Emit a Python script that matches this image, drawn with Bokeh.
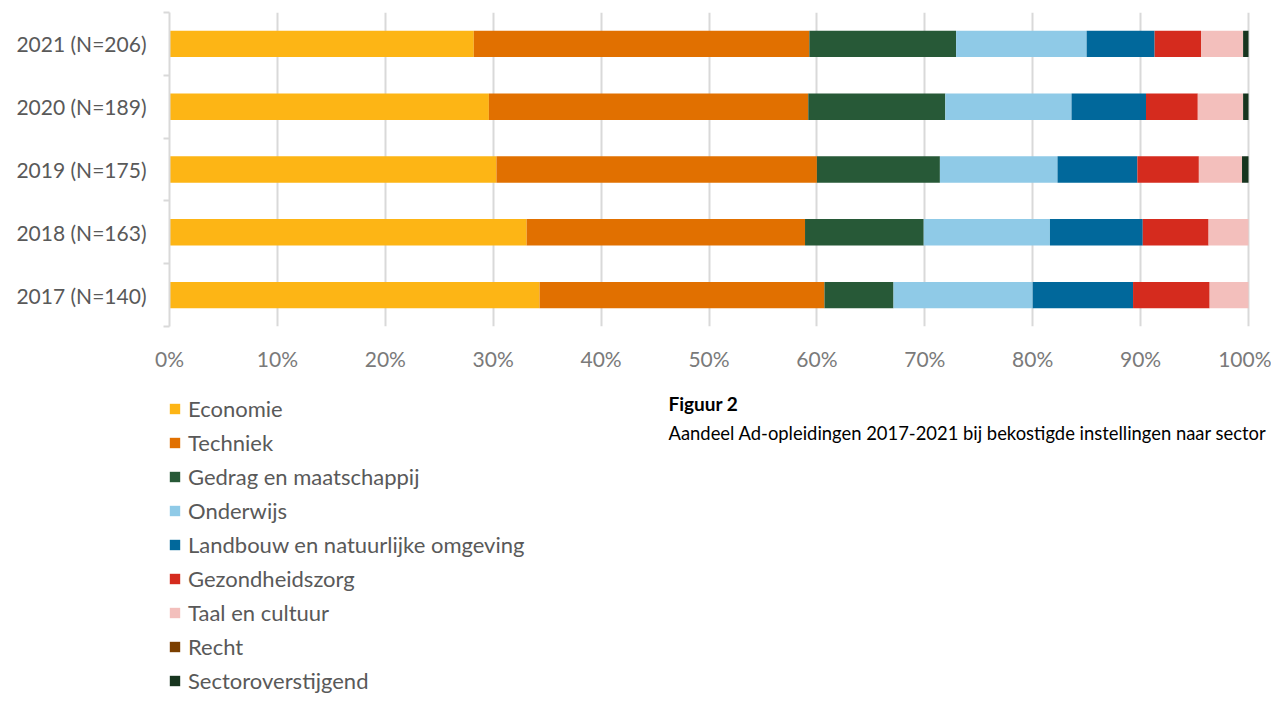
from bokeh.plotting import figure
from bokeh.models import (Range1d, FixedTicker, Legend, LegendItem, Label,
                          ColumnDataSource, NumeralTickFormatter)
from bokeh.layouts import column
from bokeh.embed import file_html
from bokeh.resources import INLINE

# ---- data (percentages) ----
years = ["2017 (N=140)", "2018 (N=163)", "2019 (N=175)", "2020 (N=189)", "2021 (N=206)"]
economie = [34.3, 33.1, 30.3, 29.6, 28.2]
techniek = [26.4, 25.8, 29.7, 29.6, 31.1]
gedrag = [6.4, 11.0, 11.4, 12.7, 13.6]
onderwijs = [12.9, 11.7, 10.9, 11.7, 12.1]
landbouw = [9.3, 8.6, 7.4, 6.9, 6.3]
gezondheid = [7.1, 6.1, 5.7, 4.8, 4.3]
taal = [3.6, 3.7, 4.0, 4.2, 3.9]
recht = [0.0, 0.0, 0.0, 0.0, 0.0]
sector = [0.0, 0.0, 0.6, 0.5, 0.5]

series_names = ["Economie", "Techniek", "Gedrag en maatschappij", "Onderwijs",
                "Landbouw en natuurlijke omgeving", "Gezondheidszorg",
                "Taal en cultuur", "Recht", "Sectoroverstijgend"]
series_values = [economie, techniek, gedrag, onderwijs, landbouw,
                 gezondheid, taal, recht, sector]
colors = ["#FDB515", "#E17000", "#275937", "#8FCAE7", "#01689B",
          "#D52B1E", "#F3BFBC", "#7B3F00", "#17351F"]
x_ticks = list(range(0, 101, 10))

caption_title = "Figuur 2"
caption_text = "Aandeel Ad-opleidingen 2017-2021 bij bekostigde instellingen naar sector"

FONT = "Lato"
W = 1271
H1 = 385
H2 = 308
LEFT = 169          # frame left edge (px)
AXIS_PX = 1079      # pixel length of 0..100 %
x_end = 100.0 * (W - LEFT) / AXIS_PX   # frame runs to the right edge

ypos = list(range(len(years)))
data = {"y": ypos}
for n, v in zip(series_names, series_values):
    data[n] = v
source = ColumnDataSource(data)

# ---------------- bar chart ----------------
p = figure(width=W, height=H1, output_backend="svg", toolbar_location=None,
           x_range=Range1d(0, x_end), y_range=Range1d(-0.5, len(years) - 0.5),
           min_border_left=LEFT, min_border_right=0, min_border_top=12,
           min_border_bottom=59)
p.outline_line_color = None
p.background_fill_color = "white"
p.border_fill_color = "white"

p.hbar_stack(series_names, y="y", height=0.42, color=colors,
             source=source, line_color=None)

p.xaxis.ticker = FixedTicker(ticks=x_ticks)
p.xaxis.formatter = NumeralTickFormatter(format="0")
p.xaxis.major_label_overrides = {t: f"{t}%" for t in x_ticks}
p.xaxis.axis_line_color = None
p.xaxis.major_tick_line_color = None
p.xaxis.minor_tick_line_color = None
p.xaxis.major_label_text_font = FONT
p.xaxis.major_label_text_font_size = "21px"
p.xaxis.major_label_text_color = "#7A7A7A"
p.xaxis.major_label_standoff = 13

p.yaxis.ticker = FixedTicker(ticks=ypos,
                             minor_ticks=[i - 0.5 for i in range(len(years) + 1)])
p.yaxis.major_label_overrides = {i: y for i, y in enumerate(years)}
p.yaxis.axis_line_color = "#D9D9D9"
p.yaxis.axis_line_width = 2
p.yaxis.major_tick_line_color = None
p.yaxis.minor_tick_line_color = "#D9D9D9"
p.yaxis.minor_tick_line_width = 2
p.yaxis.minor_tick_out = 6
p.yaxis.minor_tick_in = 0
p.yaxis.major_label_text_font = FONT
p.yaxis.major_label_text_font_size = "21px"
p.yaxis.major_label_text_color = "#595959"
p.yaxis.major_label_standoff = 17

p.xgrid.ticker = FixedTicker(ticks=x_ticks)
p.xgrid.grid_line_color = "#D9D9D9"
p.xgrid.grid_line_width = 2
p.ygrid.grid_line_color = None

# ---------------- legend + caption panel ----------------
q = figure(width=W, height=H2, output_backend="svg", toolbar_location=None,
           x_range=Range1d(0, x_end), y_range=Range1d(10, 11),
           min_border_left=LEFT, min_border_right=0, min_border_top=0,
           min_border_bottom=0)
q.axis.visible = False
q.grid.visible = False
q.outline_line_color = None
q.background_fill_color = "white"
q.border_fill_color = "white"

# same series (outside the visible range) only to feed the legend swatches
leg_renderers = q.hbar_stack(series_names, y="y", height=0.42, color=colors,
                             source=source, line_color=None)

items = [LegendItem(label=n, renderers=[r]) for n, r in zip(series_names, leg_renderers)]
legend = Legend(items=items, location=(-1, -4), orientation="vertical",
                glyph_width=13, glyph_height=13, label_height=34, spacing=0,
                label_standoff=7, padding=0, margin=0,
                border_line_color=None, background_fill_alpha=0,
                label_text_font=FONT, label_text_font_size="22px",
                label_text_color="#595959")
q.add_layout(legend, "center")

q.add_layout(Label(x=668 - LEFT, y=290, x_units="screen", y_units="screen",
                   text=caption_title, text_font=FONT, text_font_style="bold",
                   text_font_size="19px", text_color="#000000",
                   text_baseline="middle"))
q.add_layout(Label(x=668 - LEFT, y=261, x_units="screen", y_units="screen",
                   text=caption_text, text_font=FONT,
                   text_font_size="18.4px", text_color="#000000",
                   text_baseline="middle"))

layout = column(p, q, spacing=0)
open("out.html", "w").write(file_html(layout, INLINE))
